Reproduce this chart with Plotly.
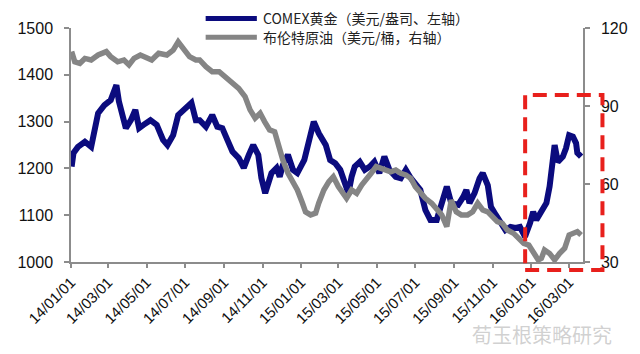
import plotly.graph_objects as go

gold_dates = [
    "2014-01-02", "2014-01-05", "2014-01-12", "2014-01-23", "2014-02-02", "2014-02-13",
    "2014-02-23", "2014-03-05", "2014-03-14", "2014-03-18", "2014-03-29", "2014-04-06",
    "2014-04-13", "2014-04-19", "2014-04-26", "2014-05-07", "2014-05-17", "2014-05-27",
    "2014-06-03", "2014-06-12", "2014-06-20", "2014-06-28", "2014-07-11", "2014-07-18",
    "2014-07-24", "2014-08-03", "2014-08-13", "2014-08-21", "2014-08-29", "2014-09-06",
    "2014-09-14", "2014-09-24", "2014-10-02", "2014-10-10", "2014-10-17", "2014-10-25",
    "2014-10-30", "2014-11-05", "2014-11-15", "2014-11-23", "2014-11-28", "2014-12-03",
    "2014-12-11", "2014-12-19", "2014-12-26", "2015-01-06", "2015-01-13", "2015-01-21",
    "2015-01-29", "2015-02-06", "2015-02-09", "2015-02-16", "2015-02-24", "2015-03-04",
    "2015-03-12", "2015-03-17", "2015-03-22", "2015-03-27", "2015-04-04", "2015-04-12",
    "2015-04-20", "2015-04-27", "2015-05-05", "2015-05-13", "2015-05-21", "2015-05-31",
    "2015-06-08", "2015-06-16", "2015-06-24", "2015-07-01", "2015-07-09", "2015-07-17",
    "2015-07-25", "2015-08-04", "2015-08-12", "2015-08-20", "2015-08-27", "2015-09-07",
    "2015-09-15", "2015-09-20", "2015-09-25", "2015-10-03", "2015-10-11", "2015-10-16",
    "2015-10-24", "2015-10-29", "2015-11-06", "2015-11-13", "2015-11-21", "2015-11-29",
    "2015-12-07", "2015-12-14", "2015-12-22", "2015-12-30", "2016-01-04", "2016-01-09",
    "2016-01-17", "2016-01-25", "2016-01-30", "2016-02-04", "2016-02-07", "2016-02-12",
    "2016-02-20", "2016-02-25", "2016-03-01", "2016-03-07", "2016-03-12", "2016-03-14",
    "2016-03-20",
]
gold_values = [
    1204, 1233, 1246, 1257, 1246, 1318,
    1335, 1346, 1378, 1343, 1286, 1303,
    1325, 1286, 1293, 1303, 1293, 1261,
    1250, 1271, 1314, 1325, 1340, 1303,
    1303, 1289, 1314, 1289, 1286, 1261,
    1236, 1222, 1201, 1229, 1250, 1229,
    1179, 1147, 1190, 1201, 1182, 1207,
    1229, 1197, 1190, 1218, 1261, 1300,
    1275, 1254, 1250, 1218, 1211, 1197,
    1169, 1147, 1182, 1204, 1214, 1197,
    1204, 1214, 1190, 1225, 1197, 1182,
    1179, 1197, 1179, 1169, 1154, 1111,
    1090, 1090, 1126, 1161, 1126, 1122,
    1139, 1154, 1126, 1147, 1179, 1190,
    1164, 1118, 1100, 1083, 1068, 1075,
    1073, 1075, 1054, 1083, 1107, 1090,
    1111, 1126, 1161, 1211, 1250, 1214,
    1225, 1243, 1271, 1268, 1254, 1233,
    1225,
]

oil_dates = [
    "2014-01-02", "2014-01-07", "2014-01-15", "2014-01-23", "2014-02-02", "2014-02-13",
    "2014-02-26", "2014-03-05", "2014-03-16", "2014-03-26", "2014-04-03", "2014-04-11",
    "2014-04-21", "2014-05-01", "2014-05-09", "2014-05-20", "2014-06-02", "2014-06-12",
    "2014-06-20", "2014-06-30", "2014-07-08", "2014-07-18", "2014-07-24", "2014-08-03",
    "2014-08-13", "2014-08-24", "2014-09-03", "2014-09-14", "2014-09-24", "2014-10-04",
    "2014-10-12", "2014-10-20", "2014-10-28", "2014-11-04", "2014-11-12", "2014-11-20",
    "2014-11-26", "2014-12-03", "2014-12-11", "2014-12-19", "2014-12-26", "2015-01-03",
    "2015-01-08", "2015-01-16", "2015-01-24", "2015-01-29", "2015-02-06", "2015-02-14",
    "2015-02-21", "2015-03-01", "2015-03-09", "2015-03-14", "2015-03-22", "2015-03-30",
    "2015-04-07", "2015-04-14", "2015-04-22", "2015-04-30", "2015-05-08", "2015-05-16",
    "2015-05-23", "2015-05-31", "2015-06-08", "2015-06-16", "2015-06-24", "2015-07-01",
    "2015-07-09", "2015-07-17", "2015-07-27", "2015-08-04", "2015-08-12", "2015-08-20",
    "2015-08-25", "2015-08-27", "2015-09-04", "2015-09-12", "2015-09-22", "2015-09-30",
    "2015-10-08", "2015-10-16", "2015-10-24", "2015-10-31", "2015-11-08", "2015-11-16",
    "2015-11-24", "2015-12-04", "2015-12-12", "2015-12-20", "2015-12-28", "2016-01-04",
    "2016-01-12", "2016-01-17", "2016-01-22", "2016-01-30", "2016-02-07", "2016-02-15",
    "2016-02-23", "2016-03-01", "2016-03-09", "2016-03-14", "2016-03-20",
]
oil_values = [
    110.9, 107.0, 106.4, 108.3, 107.7, 109.6,
    110.9, 109.0, 107.0, 107.7, 105.8, 108.3,
    109.6, 108.3, 107.7, 110.3, 109.6, 111.5,
    114.7, 111.5, 109.0, 107.7, 107.7, 105.1,
    103.2, 103.2, 101.3, 98.7, 96.8, 93.6,
    88.5, 85.3, 87.2, 84.0, 80.8, 80.1,
    74.4, 69.2, 64.2, 60.4, 57.7, 52.7,
    49.3, 48.1, 48.8, 52.7, 57.7, 60.9,
    62.8, 59.0, 56.4, 54.5, 57.7, 56.4,
    59.6, 61.5, 64.1, 66.7, 66.0, 65.4,
    64.7, 65.4, 64.1, 63.5, 62.2, 59.0,
    56.4, 54.5, 52.6, 50.0, 48.1, 43.6,
    50.0, 53.8, 49.3, 48.1, 48.1, 49.3,
    52.6, 50.0, 49.3, 47.4, 45.5, 44.9,
    42.3, 41.0, 39.1, 37.2, 36.5, 34.0,
    30.8, 31.4, 34.6, 33.3, 30.8, 33.3,
    35.3, 40.4, 41.0, 41.7, 40.4,
]

tick_dates = [
    "2014-01-01", "2014-03-01", "2014-05-01", "2014-07-01", "2014-09-01", "2014-11-01",
    "2015-01-01", "2015-03-01", "2015-05-01", "2015-07-01", "2015-09-01", "2015-11-01",
    "2016-01-01", "2016-03-01",
]
tick_labels = [
    "14/01/01", "14/03/01", "14/05/01", "14/07/01", "14/09/01", "14/11/01",
    "15/01/01", "15/03/01", "15/05/01", "15/07/01", "15/09/01", "15/11/01",
    "16/01/01", "16/03/01",
]

gold_name = "COMEX黄金（美元/盎司、左轴）"
oil_name = "布伦特原油（美元/桶，右轴）"

GOLD = "#0b0b7e"
OIL = "#858585"
AXIS = "#8c8c8c"
FONT = "Arial, Liberation Sans, sans-serif"
CJK = "Noto Sans CJK SC, sans-serif"

fig = go.Figure()
fig.add_trace(go.Scatter(x=oil_dates, y=oil_values, name=oil_name, yaxis="y2",
                         mode="lines", line=dict(color=OIL, width=5.5)))
fig.add_trace(go.Scatter(x=gold_dates, y=gold_values, name=gold_name, yaxis="y",
                         mode="lines", line=dict(color=GOLD, width=6)))

fig.update_layout(
    width=640, height=354,
    margin=dict(l=71, r=48, t=28, b=92),
    paper_bgcolor="white", plot_bgcolor="white",
    showlegend=False,
    font=dict(family=FONT, size=16, color="#111111"),
    xaxis=dict(
        type="date", range=["2014-01-01", "2016-03-23"],
        tickvals=tick_dates, ticktext=tick_labels, tickangle=-45,
        showgrid=False, zeroline=False,
        showline=True, linecolor=AXIS, linewidth=1.5,
        ticks="outside", ticklen=4, tickcolor=AXIS, tickwidth=1.5,
        tickfont=dict(family=FONT, size=15, color="#111111"),
    ),
    yaxis=dict(
        range=[1000, 1500], tickvals=[1000, 1100, 1200, 1300, 1400, 1500],
        showgrid=False, zeroline=False,
        showline=True, linecolor=AXIS, linewidth=1.5,
        ticks="outside", ticklen=5, tickcolor=AXIS, tickwidth=1.5,
        tickfont=dict(family=FONT, size=16, color="#111111"),
        ticklabelstandoff=8,
    ),
    yaxis2=dict(
        range=[30, 120], tickvals=[30, 60, 90, 120],
        overlaying="y", side="right",
        showgrid=False, zeroline=False,
        showline=True, linecolor=AXIS, linewidth=1.5,
        ticks="outside", ticklen=5, tickcolor=AXIS, tickwidth=1.5,
        tickfont=dict(family=FONT, size=16, color="#111111"),
        ticklabelstandoff=8,
    ),
)

# custom legend
for yy, color, label in [(1.041, GOLD, gold_name), (0.960, OIL, oil_name)]:
    fig.add_shape(type="line", xref="paper", yref="paper",
                  x0=0.263, x1=0.363, y0=yy, y1=yy,
                  line=dict(color=color, width=5))
    fig.add_annotation(xref="paper", yref="paper", x=0.372, y=yy,
                       xanchor="left", yanchor="middle", showarrow=False,
                       text=label, font=dict(family=CJK, size=14, color="#222222"))

# red dashed highlight box
fig.add_shape(type="rect", xref="paper", yref="paper",
              x0=0.887, x1=1.038, y0=-0.034, y1=0.714,
              line=dict(color="#e8201c", width=4, dash="14px,8px"),
              fillcolor="rgba(0,0,0,0)", layer="above")

# watermark
fig.add_annotation(xref="paper", yref="paper", x=1.06, y=-0.31,
                   xanchor="right", yanchor="middle", showarrow=False,
                   text="荀玉根策略研究",
                   font=dict(family=CJK, size=20, color="rgba(170,170,170,0.55)"))

fig.write_html("out.html")
